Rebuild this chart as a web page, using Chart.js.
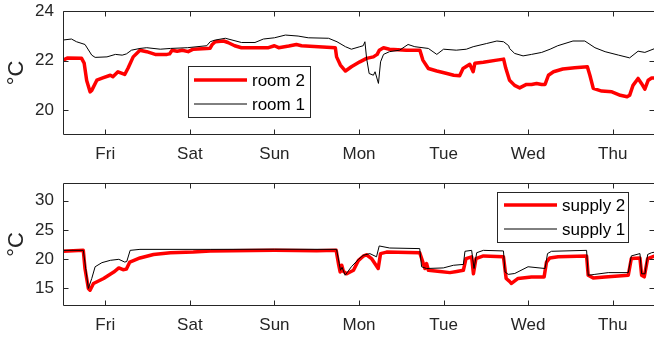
<!DOCTYPE html>
<html><head><meta charset="utf-8">
<script src="https://cdn.jsdelivr.net/npm/chart.js@4"></script>
<style>
html,body{margin:0;padding:0;background:#fff;overflow:hidden;width:654px;height:337px;}
canvas{position:absolute;left:0;}
#c1{top:0}
#c2{top:168px}
</style></head><body>
<canvas id="c1" width="660" height="168"></canvas>
<canvas id="c2" width="660" height="169"></canvas>
<script>
// ---- data (time in days from Fri 00:00) ----
const dayLabels = ['Fri','Sat','Sun','Mon','Tue','Wed','Thu'];
const dayTicks = [0,1,2,3,4,5,6];
const roomTicks = [20,22,24];
const supplyTicks = [15,20,25,30];

const room2T = [-0.5,-0.45,-0.28,-0.25,-0.22,-0.18,-0.16,-0.10,-0.03,0.06,0.09,0.15,0.23,0.27,0.33,0.41,0.49,0.59,0.73,0.76,0.79,0.85,0.91,0.98,1.04,1.2,1.24,1.265,1.3,1.4,1.45,1.53,1.61,1.93,2.0,2.05,2.17,2.26,2.32,2.52,2.72,2.735,2.78,2.84,2.91,3.01,3.09,3.17,3.215,3.24,3.29,3.36,3.56,3.72,3.755,3.82,3.92,4.04,4.12,4.19,4.23,4.31,4.35,4.37,4.47,4.63,4.71,4.735,4.78,4.84,4.9,4.98,5.04,5.1,5.16,5.2,5.24,5.3,5.41,5.55,5.7,5.73,5.77,5.87,5.99,6.09,6.17,6.2,6.24,6.3,6.34,6.38,6.42,6.46,6.5];
const room2V = [22.02,22.1,22.09,21.9,21.2,20.74,20.8,21.21,21.3,21.41,21.35,21.55,21.44,21.7,22.15,22.42,22.36,22.25,22.25,22.27,22.42,22.38,22.42,22.36,22.46,22.49,22.5,22.65,22.76,22.79,22.73,22.6,22.52,22.52,22.6,22.52,22.59,22.65,22.6,22.56,22.52,22.15,21.82,21.58,21.75,21.95,22.09,22.15,22.25,22.42,22.52,22.46,22.42,22.42,22.02,21.68,21.58,21.48,21.41,21.39,21.68,21.85,21.55,21.89,21.93,22.02,22.06,21.7,21.21,21.0,20.9,21.04,21.04,21.08,21.04,21.04,21.41,21.55,21.66,21.71,21.75,21.41,20.88,20.77,20.74,20.6,20.54,20.6,21.0,21.28,21.08,20.85,21.21,21.3,21.3];

const room1T = [-0.5,-0.4,-0.34,-0.24,-0.16,-0.12,0.02,0.12,0.2,0.25,0.31,0.41,0.49,0.65,0.77,0.97,1.2,1.24,1.3,1.42,1.61,1.77,1.87,2.0,2.13,2.28,2.4,2.64,2.74,2.84,2.91,3.01,3.05,3.07,3.09,3.12,3.17,3.19,3.23,3.255,3.29,3.36,3.48,3.58,3.66,3.82,3.92,4.0,4.15,4.27,4.35,4.51,4.63,4.71,4.77,4.78,4.84,4.94,5.04,5.16,5.26,5.35,5.53,5.67,5.79,5.91,6.07,6.2,6.3,6.38,6.5];
const room1V = [22.83,22.87,22.76,22.65,22.22,22.13,22.15,22.25,22.22,22.27,22.42,22.49,22.52,22.46,22.49,22.52,22.6,22.76,22.83,22.9,22.73,22.73,22.87,22.92,23.03,22.99,22.92,22.9,22.76,22.56,22.46,22.56,22.6,22.76,22.09,21.48,21.41,21.55,21.08,21.95,22.25,22.36,22.42,22.65,22.56,22.49,22.25,22.46,22.42,22.46,22.56,22.69,22.79,22.76,22.6,22.49,22.29,22.19,22.25,22.33,22.46,22.6,22.79,22.79,22.52,22.36,22.22,22.11,22.38,22.33,22.49];

const supply2T = [-0.5,-0.26,-0.24,-0.2,-0.18,-0.14,-0.02,0.1,0.16,0.21,0.25,0.29,0.41,0.57,0.77,1.04,1.24,2.0,2.5,2.73,2.757,2.777,2.796,2.816,2.855,2.935,2.994,3.05,3.089,3.148,3.227,3.255,3.326,3.718,3.755,3.779,3.799,3.82,3.957,4.075,4.155,4.234,4.265,4.332,4.353,4.383,4.471,4.708,4.74,4.78,4.803,4.881,5.039,5.189,5.217,5.256,5.355,5.691,5.71,5.769,5.908,6.184,6.22,6.322,6.342,6.373,6.413,6.5];
const supply2V = [21.34,21.5,18.4,15.0,14.7,15.85,16.7,17.8,18.5,18.2,18.3,19.5,20.2,20.8,21.1,21.2,21.4,21.5,21.45,21.5,19.25,17.8,18.95,17.9,17.5,18.1,19.8,20.5,20.75,20.1,18.4,20.95,21.2,21.1,19.5,18.4,19.25,18.1,17.9,17.7,17.9,18.1,20.1,20.4,17.5,20.1,20.55,20.4,16.7,16.2,15.85,16.7,16.97,16.97,19.5,20.2,20.4,20.55,17.25,16.8,16.97,17.25,20.1,20.2,17.25,16.97,20.1,20.55];

const supply1T = [-0.5,-0.26,-0.2,-0.16,-0.12,-0.04,0.06,0.16,0.23,0.254,0.294,0.41,1.24,2.0,2.735,2.781,2.80,2.836,2.91,2.994,3.05,3.128,3.207,3.239,3.363,3.718,3.74,3.799,3.997,4.116,4.234,4.253,4.332,4.36,4.392,4.471,4.708,4.727,4.765,4.842,4.999,5.2,5.229,5.276,5.691,5.71,5.789,5.947,6.184,6.22,6.322,6.342,6.382,6.413,6.461,6.5];
const supply1V = [21.5,21.5,15.0,16.7,18.7,19.4,19.8,19.97,19.5,19.6,21.5,21.67,21.67,21.7,21.67,18.1,18.6,17.25,18.7,19.97,20.65,20.95,20.4,22.25,21.9,21.8,18.7,18.4,18.5,18.95,19.1,21.34,21.5,18.4,21.1,21.5,21.4,17.8,17.4,17.55,18.7,18.4,20.95,21.34,21.5,17.25,17.4,17.7,17.7,20.55,20.95,17.5,17.5,20.8,21.1,21.2];

// ---- rendering ----
const AX = '#262626';
const FONT = '"Liberation Sans", Arial, Helvetica, sans-serif';
const pts = (T, V) => T.map((t, i) => ({x: t, y: V[i]}));

const boxPlugin = {
  id: 'mbox',
  afterDatasetsDraw(chart, args, opts) {
    const {ctx, chartArea: a, scales} = chart;
    ctx.save();
    ctx.strokeStyle = AX; ctx.lineWidth = 1;
    const L = Math.round(a.left) + 0.5, R = Math.round(a.right) - 0.5;
    const T = Math.round(a.top) + 0.5, B = Math.round(a.bottom) - 0.5;
    ctx.beginPath();
    ctx.rect(L, T, R - L, B - T);
    const tl = 5;
    scales.x.ticks.forEach(t => {
      const px = Math.round(scales.x.getPixelForValue(t.value)) + 0.5;
      ctx.moveTo(px, B); ctx.lineTo(px, B - tl);
      ctx.moveTo(px, T); ctx.lineTo(px, T + tl);
    });
    scales.y.ticks.forEach(t => {
      const py = Math.round(scales.y.getPixelForValue(t.value)) + 0.5;
      ctx.moveTo(L, py); ctx.lineTo(L + tl, py);
      ctx.moveTo(R, py); ctx.lineTo(R - tl, py);
    });
    ctx.stroke();
    // legend box
    const g = opts.legend;
    if (g) {
      ctx.fillStyle = '#fff';
      ctx.fillRect(g.x, g.y, g.w, g.h);
      ctx.strokeStyle = AX;
      ctx.strokeRect(g.x + 0.5, g.y + 0.5, g.w, g.h);
      ctx.font = '17px ' + FONT;
      ctx.textBaseline = 'middle';
      ctx.textAlign = 'left';
      g.items.forEach((idx, k) => {
        const ds = chart.data.datasets[idx];
        const y = g.y + g.rows[k];
        ctx.beginPath();
        ctx.strokeStyle = ds.borderColor;
        ctx.lineWidth = ds.borderWidth;
        ctx.moveTo(g.x + g.l0, y); ctx.lineTo(g.x + g.l1, y);
        ctx.stroke();
        ctx.fillStyle = '#000';
        ctx.fillText(ds.label, g.x + g.tx, y + 1);
      });
    }
    ctx.restore();
  }
};

function makeChart(id, datasets, yMin, yMax, yTicks, padTop, xAxisH, legend) {
  return new Chart(document.getElementById(id), {
    type: 'line',
    data: {datasets},
    options: {
      responsive: false, animation: false, devicePixelRatio: 1, events: [],
      layout: {padding: {top: padTop, right: 5, left: 0, bottom: 0}},
      elements: {point: {radius: 0}, line: {tension: 0, borderJoinStyle: 'round'}},
      plugins: {legend: {display: false}, tooltip: {enabled: false}, mbox: {legend}},
      scales: {
        x: {
          type: 'linear', min: -0.5, max: 6.5,
          grid: {display: false, drawTicks: false}, border: {display: false},
          afterBuildTicks: s => { s.ticks = dayTicks.map(v => ({value: v})); },
          afterFit: s => { s.height = xAxisH; s.paddingLeft = 0; s.paddingRight = 0; },
          ticks: {color: AX, font: {family: FONT, size: 17}, padding: 9, maxRotation: 0, autoSkip: false,
                  callback: v => dayLabels[dayTicks.indexOf(v)] ?? ''}
        },
        y: {
          min: yMin, max: yMax,
          grid: {display: false, drawTicks: false}, border: {display: false},
          afterBuildTicks: s => { s.ticks = yTicks.map(v => ({value: v})); },
          afterFit: s => { s.width = 63; s.paddingTop = 0; s.paddingBottom = 0; },
          ticks: {color: AX, font: {family: FONT, size: 17}, padding: 9},
          title: {display: true, text: '°C', color: AX, font: {family: FONT, size: 22}, padding: {top: 4, bottom: 0}}
        }
      }
    },
    plugins: [boxPlugin]
  });
}

makeChart('c1', [
  {label: 'room 2', data: pts(room2T, room2V), borderColor: '#ff0000', borderWidth: 3.5, order: 1},
  {label: 'room 1', data: pts(room1T, room1V), borderColor: '#000000', borderWidth: 1, order: 0}
], 19, 24, roomTicks, 11, 33,
  {x: 188, y: 66, w: 122, h: 51, l0: 6, l1: 59, tx: 64, rows: [14, 38], items: [0, 1]});

makeChart('c2', [
  {label: 'supply 2', data: pts(supply2T, supply2V), borderColor: '#ff0000', borderWidth: 3.5, order: 1},
  {label: 'supply 1', data: pts(supply1T, supply1V), borderColor: '#000000', borderWidth: 1, order: 0}
], 12, 33, supplyTicks, 15, 31,
  {x: 497, y: 24, w: 131, h: 50, l0: 7, l1: 60, tx: 65, rows: [13, 37], items: [0, 1]});
</script>
</body></html>
